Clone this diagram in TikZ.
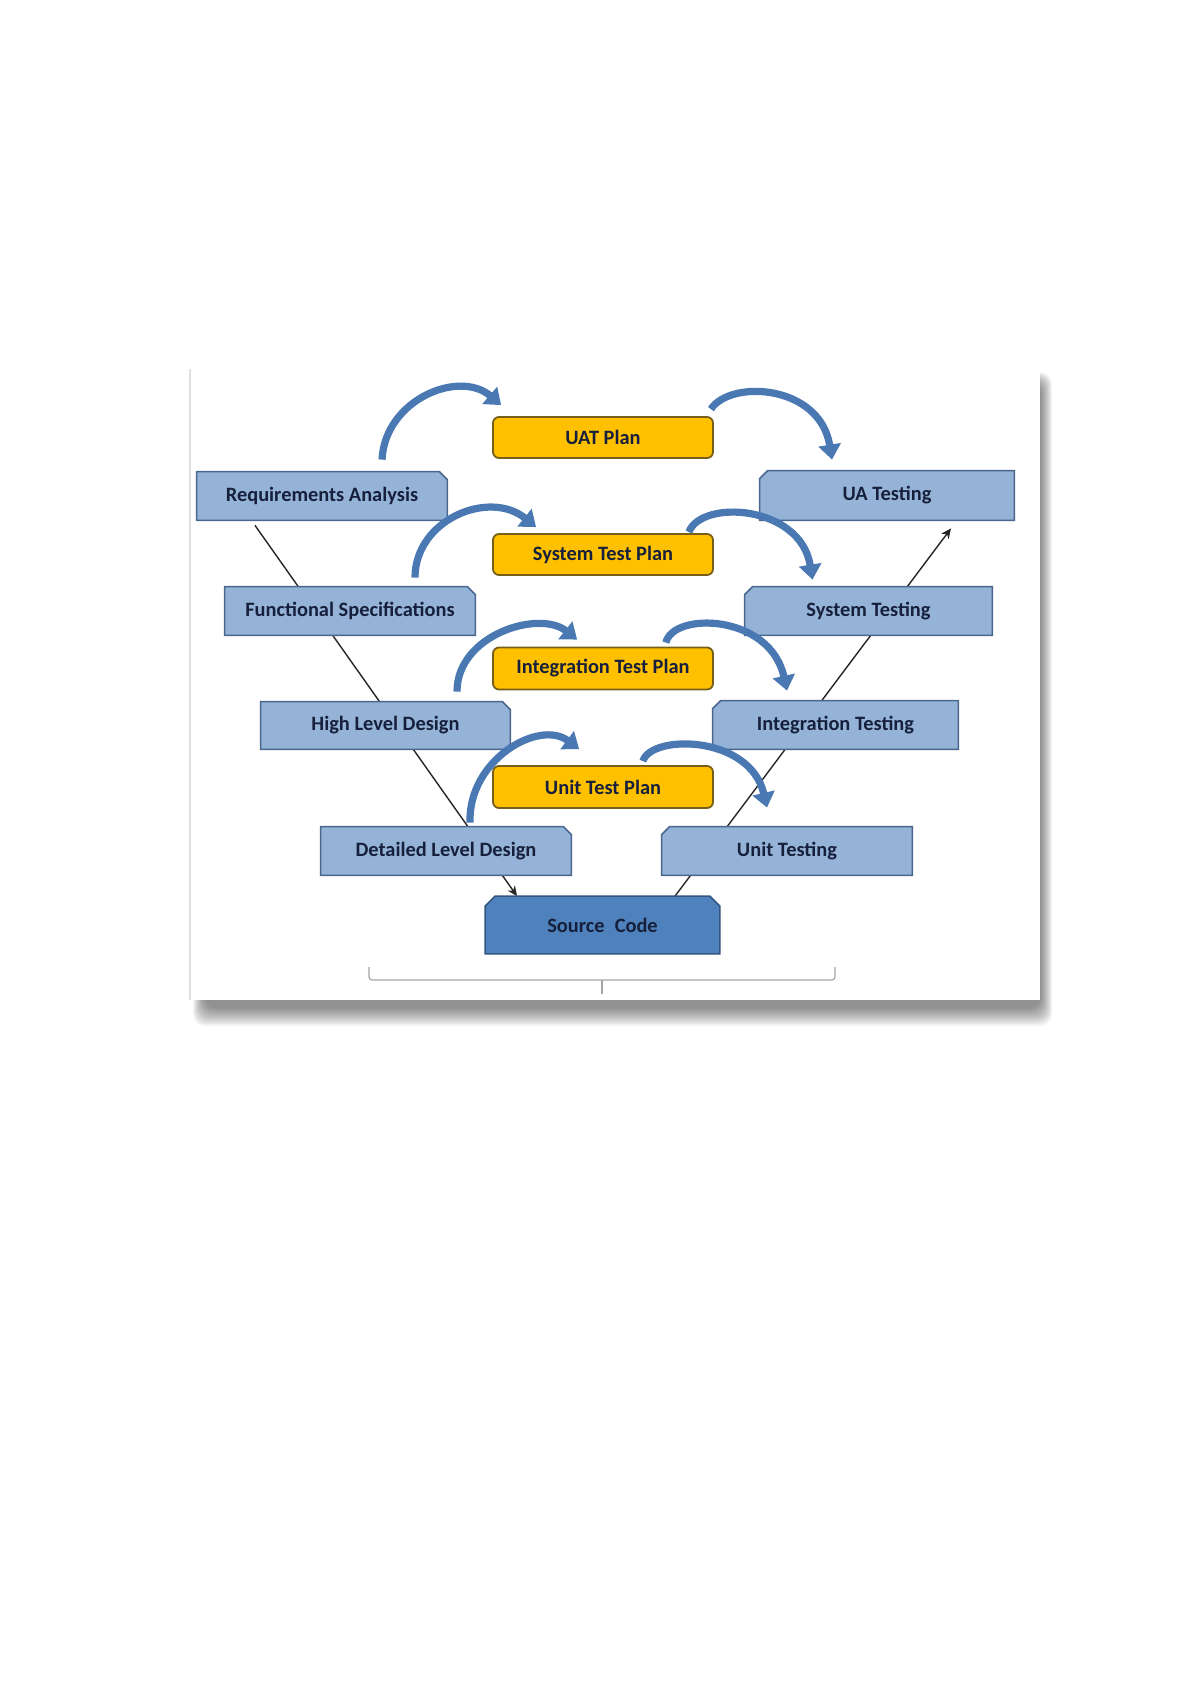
\documentclass[tikz,border=0pt]{standalone}
\usepackage{fontspec}
\newfontfamily\boxfont{Carlito}
\usetikzlibrary{calc,arrows.meta}
\pgfdeclarelayer{panel}
\pgfdeclarelayer{lines}
\pgfdeclarelayer{shapes}
\pgfsetlayers{panel,lines,shapes,main}
\definecolor{boxblue}{RGB}{149,179,215}
\definecolor{boxedge}{RGB}{72,102,142}
\definecolor{srcblue}{RGB}{79,129,189}
\definecolor{srcedge}{RGB}{50,85,130}
\definecolor{plany}{RGB}{255,192,0}
\definecolor{planedge}{RGB}{120,95,25}
\definecolor{arrowblue}{RGB}{74,120,178}
\definecolor{txt}{RGB}{22,32,60}
\definecolor{bracegray}{RGB}{165,165,165}
\tikzset{
  lbl/.style={font=\boxfont\bfseries\fontsize{10.2}{12}\selectfont, text=txt, inner sep=0pt},
  plan/.style={lbl, rectangle, rounded corners=3pt, fill=plany, draw=planedge, line width=0.9pt,
               minimum width=110pt, minimum height=20.5pt},
  vb/.style={lbl, rectangle, minimum width=125pt, minimum height=24pt},
  bluefill/.style={fill=boxblue, draw=boxedge, line width=0.8pt},
  srcfill/.style={fill=srcblue, draw=srcedge, line width=0.8pt},
  vline/.style={draw=black!85, line width=0.7pt},
  vtip/.style={-{Stealth[length=5pt,width=4.5pt]}},
  barrow/.style={draw=arrowblue, line width=3.6pt, -{Triangle[width=11pt,length=7.5pt]}},
  bracel/.style={draw=bracegray, line width=0.6pt, rounded corners=1.5pt}
}
\newcommand{\snipR}[1]{\begin{pgfonlayer}{shapes}\filldraw[bluefill] (#1.south west) -- (#1.north west) -- ([xshift=-4pt]#1.north east) -- ([yshift=-4pt]#1.north east) -- (#1.south east) -- cycle;\end{pgfonlayer}}
\newcommand{\snipL}[1]{\begin{pgfonlayer}{shapes}\filldraw[bluefill] (#1.south west) -- ([yshift=-4pt]#1.north west) -- ([xshift=4pt]#1.north west) -- (#1.north east) -- (#1.south east) -- cycle;\end{pgfonlayer}}
\newcommand{\snipB}[1]{\begin{pgfonlayer}{shapes}\filldraw[srcfill] (#1.south west) -- ([yshift=-5pt]#1.north west) -- ([xshift=5pt]#1.north west) -- ([xshift=-5pt]#1.north east) -- ([yshift=-5pt]#1.north east) -- (#1.south east) -- cycle;\end{pgfonlayer}}
\begin{document}
\begin{tikzpicture}[x=0.5pt,y=-0.5pt]
\begin{pgfonlayer}{panel}
\fill[white] (0,0) rectangle (1192,1685);
% soft shadow, darker at the bottom
\foreach \k in {0,...,11}{
  \fill[black, opacity=0.045, rounded corners=6pt] (193+\k,372+\k) rectangle (1052-\k,1026-1.6*\k);
}
\fill[white] (190,369) rectangle (1040,1000);
\draw[black!12, line width=0.6pt] (190,369) -- (190,1000);
\end{pgfonlayer}
\useasboundingbox (0,0) rectangle (1192,1685);

% plan boxes
\node[plan] (uatp) at (603,437.5) {UAT Plan};
\node[plan] (stp) at (603,554.5) {System Test Plan};
\node[plan, minimum height=21pt] (itp) at (603,668.5) {Integration Test Plan};
\node[plan, minimum height=21pt] (utp) at (603,787) {Unit Test Plan};

% left side
\node[vb] (req) at (322,496) {Requirements Analysis};
\node[vb] (func) at (350,611) {Functional Specifications};
\node[vb, minimum width=124.5pt, minimum height=23.5pt] (hld) at (385.5,725.5) {High Level Design};
\node[vb] (dld) at (446,851) {Detailed Level Design};
\snipR{req}\snipR{func}\snipR{hld}\snipR{dld}

% right side
\node[vb, minimum width=127pt, minimum height=24.5pt] (uatest) at (887,495.5) {UA Testing};
\node[vb, minimum width=123.5pt] (syst) at (868.5,611) {System Testing};
\node[vb, minimum width=122.5pt] (intt) at (835.5,725) {Integration Testing};
\node[vb] (ut) at (787,851) {Unit Testing};
\snipL{uatest}\snipL{syst}\snipL{intt}\snipL{ut}

% source code
\node[vb, minimum width=117pt, minimum height=28.5pt] (src) at (602.5,925) {Source\enspace Code};
\snipB{src}

% V lines
\coordinate (vl) at ($(req.south)+(-67,5)$);
\coordinate (vr) at ($(uatest.south)+(64,8)$);
\begin{pgfonlayer}{lines}
\draw[vline, vtip] (vl) -- ($(src.north)+(-85.5,0)$);
\draw[vline, vtip] ($(src.north)+(72.5,0)$) -- (vr);
\end{pgfonlayer}

% curved arrows
\draw[barrow] ($(req.north)+(60,-12)$) .. controls +(3,-60) and +(-42,-36) .. ($(uatp.north west)+(9,-11)$);
\draw[barrow] ($(uatp.north east)+(-3,-7)$) .. controls +(20,-30) and +(-12,-75) .. ($(uatest.north)+(-55,-11)$);
\draw[barrow] ($(func.north)+(65,-9)$) .. controls +(0,-58) and +(-47,-38) .. ($(stp.north west)+(44,-6)$);
\draw[barrow] ($(stp.north east)+(-25,-1)$) .. controls +(12,-33) and +(-12,-75) .. ($(syst.north)+(-56,-7)$);
\draw[barrow] ($(hld.north)+(71.5,-10)$) .. controls +(0,-57) and +(-38,-30) .. ($(itp.north west)+(85,-7)$);
\draw[barrow] ($(itp.north east)+(-48,-4)$) .. controls +(7,-31) and +(-17,-77) .. ($(intt.north)+(-48.5,-10)$);
\draw[barrow] ($(dld.north)+(24,-4)$) .. controls +(-2,-63) and +(-40,-30) .. ($(utp.north west)+(87,-16)$);
\draw[barrow] ($(utp.north east)+(-71,-4)$) .. controls +(8,-27) and +(-17,-73) .. ($(ut.north)+(-20,-19)$);

% brace
\draw[bracel] (369,967) -- (369,980) -- (835,980) -- (835,967);
\draw[bracel] (602,980) -- (602,994);
\end{tikzpicture}
\end{document}
